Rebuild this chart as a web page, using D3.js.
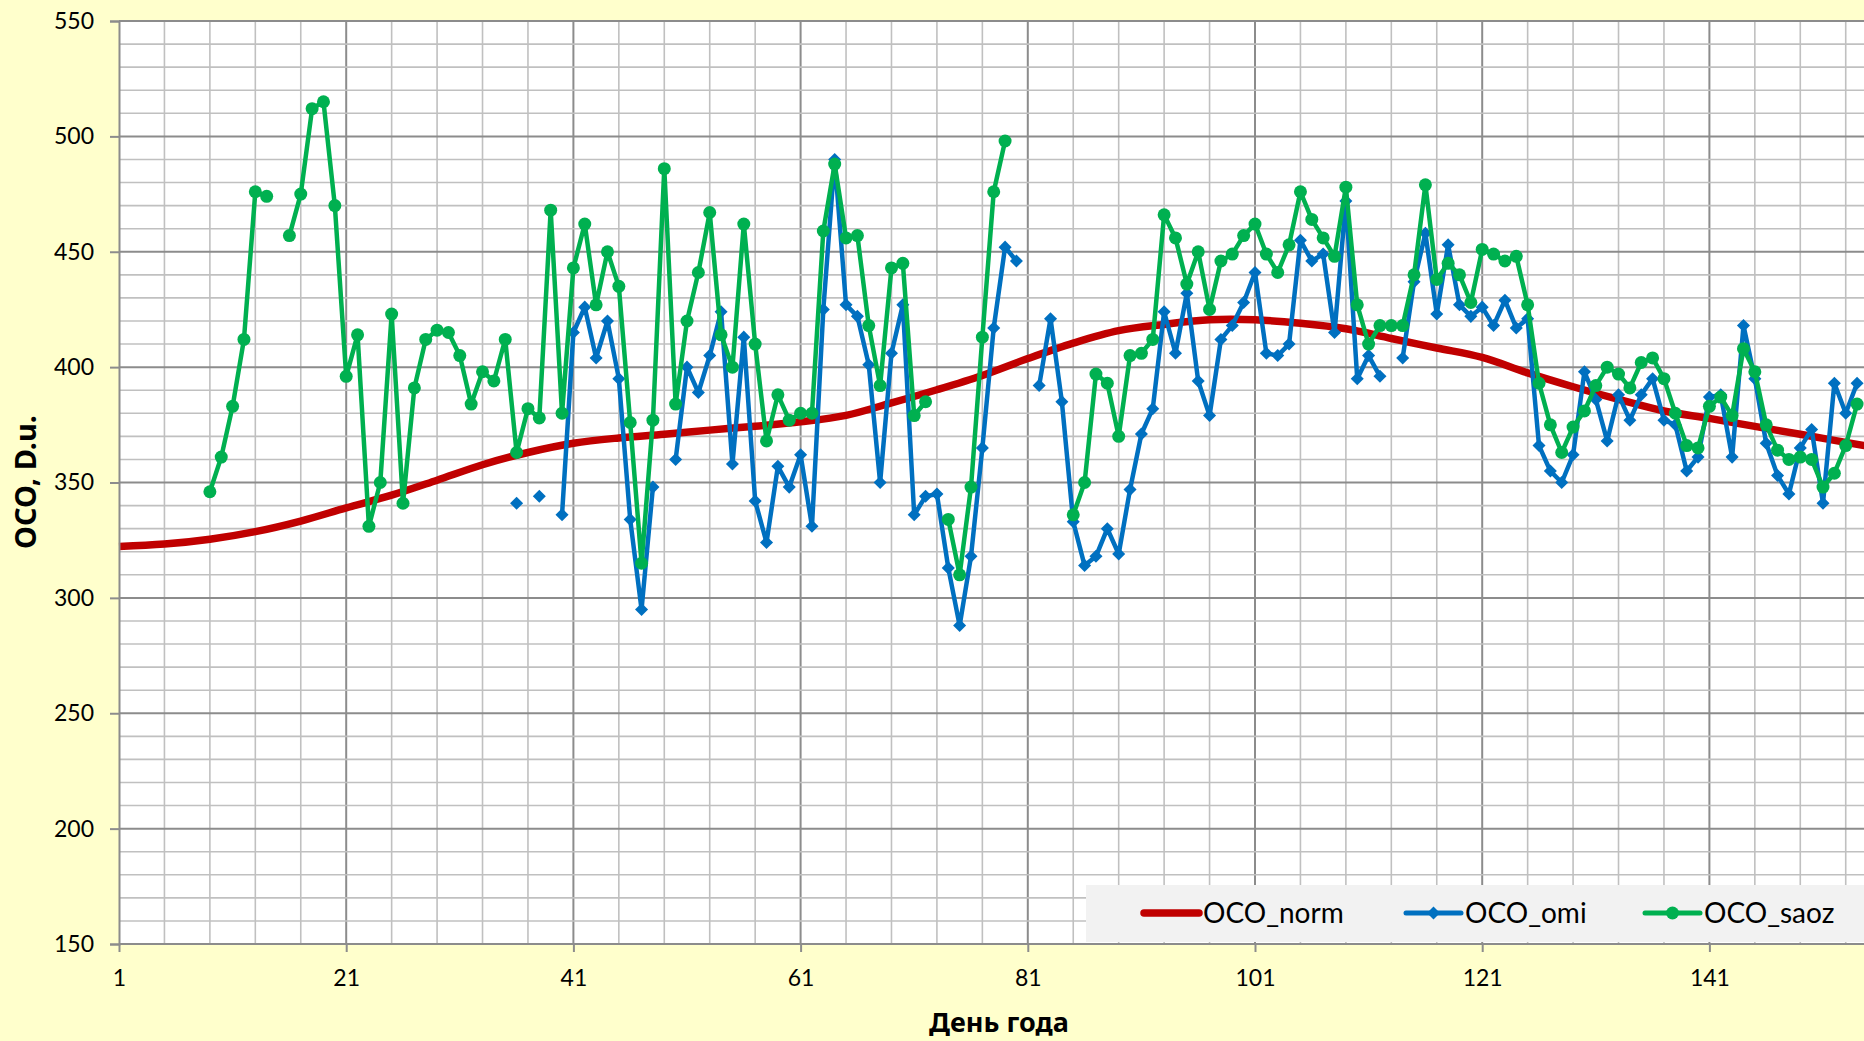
<!DOCTYPE html>
<html>
<head>
<meta charset="utf-8">
<script src="https://cdn.jsdelivr.net/npm/d3@7"></script>
<style>
    body { margin: 0; background: #ffffcc; overflow: hidden; }
    text { font-family: Lato, 'Noto Sans', sans-serif; fill: #000; }
</style>
</head>
<body>
<svg id="chart"></svg>
<script>
const width = 1864;
const height = 1041;

// values read per day, starting at day 1 (null = no measurement)
const omiValues = [
    null, null, null, null, null, null, null, null, null, null,
    null, null, null, null, null, null, null, null, null, null,
    null, null, null, null, null, null, null, null, null, null,
    null, null, null, null, null, 341, null, 344, null, 336,
    415, 426, 404, 420, 395, 334, 295, 348, null, 360,
    400, 389, 405, 424, 358, 413, 342, 324, 357, 348,
    362, 331, 425, 490, 427, 422, 401, 350, 406, 427,
    336, 344, 345, 313, 288, 318, 365, 417, 452, 446,
    null, 392, 421, 385, 333, 314, 318, 330, 319, 347,
    371, 382, 424, 406, 432, 394, 379, 412, 418, 428,
    441, 406, 405, 410, 455, 446, 449, 415, 472, 395,
    405, 396, null, 404, 437, 458, 423, 453, 427, 422,
    426, 418, 429, 417, 421, 366, 355, 350, 362, 398,
    386, 368, 388, 377, 388, 395, 377, 375, 355, 361,
    387, 388, 361, 418, 395, 367, 353, 345, 365, 373,
    341, 393, 380, 393
];
const saozValues = [
    null, null, null, null, null, null, null, null, 346, 361,
    383, 412, 476, 474, null, 457, 475, 512, 515, 470,
    396, 414, 331, 350, 423, 341, 391, 412, 416, 415,
    405, 384, 398, 394, 412, 363, 382, 378, 468, 380,
    443, 462, 427, 450, 435, 376, 315, 377, 486, 384,
    420, 441, 467, 414, 400, 462, 410, 368, 388, 377,
    380, 380, 459, 488, 456, 457, 418, 392, 443, 445,
    379, 385, null, 334, 310, 348, 413, 476, 498, null,
    null, null, null, null, 336, 350, 397, 393, 370, 405,
    406, 412, 466, 456, 436, 450, 425, 446, 449, 457,
    462, 449, 441, 453, 476, 464, 456, 448, 478, 427,
    410, 418, 418, 418, 440, 479, 438, 445, 440, 428,
    451, 449, 446, 448, 427, 393, 375, 363, 374, 381,
    392, 400, 397, 391, 402, 404, 395, 380, 366, 365,
    383, 387, 379, 408, 398, 375, 364, 360, 361, 360,
    348, 354, 366, 384
];
const normDays = [1, 5, 9, 13, 17, 21, 25, 29, 33, 37, 41, 45, 49, 53, 57, 61, 65, 69, 73, 77,
    81, 85, 89, 93, 97, 101, 105, 109, 113, 117, 121, 125, 129, 133, 137, 141, 145, 149, 153, 157];
const normValues = [322.3, 323.3, 325.4, 328.7, 333.3, 339, 344.5, 351, 357.7, 363, 367, 369.3,
    370.9, 372.7, 374.4, 376.3, 379.1, 384.5, 390.2, 396.4, 403.7, 410.4, 415.8, 418.5, 420.5,
    420.5, 419, 416.6, 412.4, 408.3, 404.2, 397.5, 391.5, 386, 381, 377.8, 374.3, 370.9, 367.4, 364];
const xTicks = [1, 21, 41, 61, 81, 101, 121, 141];
const yTicks = [150, 200, 250, 300, 350, 400, 450, 500, 550];
const seriesNames = ['OCO_norm', 'OCO_omi', 'OCO_saoz'];
const colors = { OCO_norm: '#c00000', OCO_omi: '#0070c0', OCO_saoz: '#00b050' };

const margin = { left: 119, top: 21, bottom: 97 };
const dayWidth = 11.36;

const x = d3.scaleLinear()
    .domain([1, 161])
    .range([margin.left, margin.left + 160 * dayWidth]);
const y = d3.scaleLinear()
    .domain([150, 550])
    .range([height - margin.bottom, margin.top]);

const svg = d3.select('#chart')
    .attr('width', width)
    .attr('height', height);

svg.append('rect')
    .attr('x', x(1)).attr('y', y(550))
    .attr('width', x(161) - x(1)).attr('height', y(150) - y(550))
    .attr('fill', '#fff');

// grid: minor every 4 days / 10 units, major every 20 days / 50 units
const grid = svg.append('g');
grid.selectAll('.vgrid')
    .data(d3.range(5, 162, 4))
    .enter().append('line')
    .attr('x1', d => x(d)).attr('x2', d => x(d))
    .attr('y1', y(150)).attr('y2', y(550))
    .attr('stroke', d => (d - 1) % 20 === 0 ? '#8c8c8c' : '#c0c0c0')
    .attr('stroke-width', d => (d - 1) % 20 === 0 ? 2 : 1.6);
grid.selectAll('.hgrid')
    .data(d3.range(160, 551, 10))
    .enter().append('line')
    .attr('x1', x(1)).attr('x2', width)
    .attr('y1', d => y(d)).attr('y2', d => y(d))
    .attr('stroke', d => d % 50 === 0 ? '#8c8c8c' : '#c0c0c0')
    .attr('stroke-width', d => d % 50 === 0 ? 2 : 1.6);

const toPoints = values => values.map((v, i) => ({ day: i + 1, value: v }));
const line = d3.line()
    .defined(d => d.value !== null)
    .x(d => x(d.day))
    .y(d => y(d.value));

const normPoints = normDays.map((d, i) => ({ day: d, value: normValues[i] }));
svg.append('path')
    .datum(normPoints)
    .attr('fill', 'none')
    .attr('stroke', colors.OCO_norm)
    .attr('stroke-width', 7.5)
    .attr('d', line.curve(d3.curveCatmullRom));

line.curve(d3.curveLinear);
const diamond = d3.symbol().type(d3.symbolSquare).size(85);

const omiPoints = toPoints(omiValues);
svg.append('path')
    .datum(omiPoints)
    .attr('fill', 'none')
    .attr('stroke', colors.OCO_omi)
    .attr('stroke-width', 4.5)
    .attr('stroke-linejoin', 'round')
    .attr('d', line);
svg.append('g').selectAll('path')
    .data(omiPoints.filter(d => d.value !== null))
    .enter().append('path')
    .attr('d', diamond)
    .attr('fill', colors.OCO_omi)
    .attr('transform', d => `translate(${x(d.day)},${y(d.value)}) rotate(45)`);

const saozPoints = toPoints(saozValues);
svg.append('path')
    .datum(saozPoints)
    .attr('fill', 'none')
    .attr('stroke', colors.OCO_saoz)
    .attr('stroke-width', 4.5)
    .attr('stroke-linejoin', 'round')
    .attr('d', line);
svg.append('g').selectAll('circle')
    .data(saozPoints.filter(d => d.value !== null))
    .enter().append('circle')
    .attr('cx', d => x(d.day))
    .attr('cy', d => y(d.value))
    .attr('r', 6.5)
    .attr('fill', colors.OCO_saoz);

// axes
const yAxis = svg.append('g')
    .attr('transform', `translate(${x(1)},0)`)
    .call(d3.axisLeft(y).tickValues(yTicks).tickSize(9).tickPadding(16));
const xAxis = svg.append('g')
    .attr('transform', `translate(0,${y(150)})`)
    .call(d3.axisBottom(x).tickValues(xTicks).tickSize(8).tickPadding(18));
[yAxis, xAxis].forEach(axis => {
    axis.select('.domain').attr('stroke', '#8c8c8c').attr('stroke-width', 2);
    axis.selectAll('.tick line').attr('stroke', '#8c8c8c').attr('stroke-width', 2);
    axis.selectAll('.tick text')
        .style('font-family', 'Lato, sans-serif')
        .style('font-size', '23px')
        .attr('fill', '#000');
});
xAxis.select('.domain').attr('d', `M${x(1)},0H${width}`);

svg.append('text')
    .attr('x', 999).attr('y', 1032)
    .attr('text-anchor', 'middle')
    .style('font-family', "'Noto Sans', sans-serif")
    .style('font-weight', 'bold')
    .style('font-size', '27px')
    .text('День года');

svg.append('text')
    .attr('transform', 'translate(36,482) rotate(-90)')
    .attr('text-anchor', 'middle')
    .style('font-family', "'Noto Sans', sans-serif")
    .style('font-weight', 'bold')
    .style('font-size', '29px')
    .text('OCO, D.u.');

// legend
const legend = svg.append('g');
legend.append('rect')
    .attr('x', 1086).attr('y', 885)
    .attr('width', width - 1086).attr('height', 57)
    .attr('fill', '#f2f2f2');
const legendX = [1144, 1406, 1645];
const item = legend.selectAll('.item')
    .data(seriesNames)
    .enter().append('g')
    .attr('transform', (d, i) => `translate(${legendX[i]},913)`);
item.append('line')
    .attr('x1', 0).attr('x2', 55)
    .attr('stroke', d => colors[d])
    .attr('stroke-width', (d, i) => i === 0 ? 7.5 : 5)
    .attr('stroke-linecap', 'round');
item.filter(d => d === 'OCO_omi').append('path')
    .attr('d', diamond)
    .attr('fill', colors.OCO_omi)
    .attr('transform', 'translate(27.5,0) rotate(45)');
item.filter(d => d === 'OCO_saoz').append('circle')
    .attr('cx', 27.5).attr('r', 6.5)
    .attr('fill', colors.OCO_saoz);
item.append('text')
    .attr('x', 59).attr('y', 10)
    .style('font-size', '28px')
    .text(d => d);
</script>
</body>
</html>
